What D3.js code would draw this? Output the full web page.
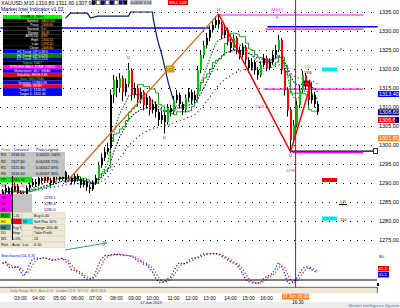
<!DOCTYPE html>
<head>
    <meta charset='utf-8'>
    <title>XAUUSD,M10</title>
    <script src='https://d3js.org/d3.v7.min.js'></script>
    <style>
        html, body { margin: 0px; padding: 0px; background: #fff; }
        svg { display: block; font-family: 'Liberation Sans', Arial, sans-serif; }
    </style>
</head>
<body>
    <svg id='chart' width='400' height='308'></svg>
    <script>
        // bars, one every 3px, oldest first
        var firstOpen = 1286.5;
        var closes = [1287.6, 1288.7, 1286.8, 1288.2, 1289.2, 1287.4, 1286.0, 1287.1, 1288.7, 1289.5,
            1290.3, 1289.7, 1291.3, 1290.5, 1291.8, 1290.8, 1290.0, 1291.6, 1292.4, 1291.0,
            1292.9, 1290.8, 1291.3, 1290.3, 1291.8, 1291.0, 1289.5, 1290.5, 1288.9, 1288.4,
            1290.0, 1291.3, 1294.7, 1296.6, 1298.2, 1299.2, 1313.2, 1317.1, 1315.0, 1317.6,
            1313.9, 1316.1, 1319.7, 1313.2, 1315.0, 1311.8, 1313.9, 1310.5, 1312.4, 1309.2,
            1310.8, 1308.7, 1306.6, 1307.9, 1306.0, 1309.7, 1308.7, 1311.8, 1313.2, 1310.8,
            1309.2, 1312.4, 1313.9, 1311.8, 1313.2, 1319.7, 1323.7, 1326.3, 1328.2, 1330.3,
            1331.6, 1332.9, 1331.8, 1328.9, 1330.3, 1327.1, 1325.5, 1328.2, 1325.0, 1323.7,
            1325.8, 1322.4, 1320.3, 1321.8, 1319.7, 1318.4, 1321.1, 1322.9, 1320.3, 1321.8,
            1323.7, 1325.0, 1327.6, 1319.7, 1314.5, 1309.2, 1301.3, 1305.3, 1310.5, 1314.5,
            1318.4, 1315.8, 1311.8, 1313.2, 1310.8, 1308.6];
        var highs = [1288.4, 1289.6, 1289.1, 1288.9, 1290.1, 1289.8, 1288.0, 1287.8, 1289.3, 1290.4,
            1291.2, 1291.0, 1292.0, 1292.1, 1292.6, 1292.3, 1291.4, 1292.2, 1293.5, 1292.9,
            1293.8, 1293.2, 1292.1, 1291.9, 1292.5, 1292.4, 1291.4, 1291.2, 1290.9, 1289.6,
            1290.7, 1292.2, 1295.5, 1297.8, 1299.4, 1300.6, 1314.6, 1318.4, 1318.0, 1318.9,
            1318.3, 1317.5, 1321.6, 1320.2, 1316.4, 1315.6, 1315.1, 1314.4, 1313.6, 1312.9,
            1312.0, 1311.5, 1309.4, 1309.0, 1308.6, 1310.8, 1310.6, 1312.9, 1314.5, 1313.8,
            1311.4, 1313.3, 1315.0, 1314.6, 1314.3, 1320.8, 1325.0, 1327.4, 1329.5, 1331.4,
            1332.8, 1333.9, 1334.5, 1332.4, 1331.5, 1330.9, 1328.0, 1329.1, 1328.7, 1325.9,
            1326.8, 1326.3, 1323.1, 1322.9, 1322.4, 1320.6, 1322.0, 1324.0, 1323.5, 1322.8,
            1324.9, 1326.4, 1329.0, 1328.1, 1320.4, 1315.2, 1310.0, 1306.6, 1311.7, 1315.8,
            1319.6, 1319.0, 1316.5, 1316.6, 1314.0, 1311.6];
        var lows = [1285.9, 1287.0, 1285.8, 1286.2, 1287.7, 1286.9, 1285.2, 1285.6, 1286.6, 1288.1,
            1288.9, 1289.0, 1289.2, 1289.9, 1290.0, 1290.2, 1289.3, 1289.6, 1291.1, 1290.4,
            1290.6, 1290.0, 1290.3, 1289.6, 1289.9, 1290.4, 1288.7, 1288.9, 1287.9, 1287.3,
            1287.9, 1289.5, 1290.9, 1294.0, 1295.8, 1297.5, 1298.8, 1311.0, 1312.6, 1313.8,
            1311.5, 1312.8, 1315.2, 1311.7, 1312.3, 1310.2, 1310.9, 1309.1, 1309.6, 1307.8,
            1308.3, 1307.2, 1305.0, 1305.5, 1303.0, 1305.4, 1307.5, 1308.1, 1311.0, 1309.6,
            1307.9, 1308.6, 1311.6, 1310.7, 1311.0, 1312.7, 1318.9, 1322.8, 1325.4, 1327.3,
            1329.6, 1330.8, 1330.6, 1327.8, 1328.1, 1326.2, 1324.3, 1324.9, 1323.9, 1322.5,
            1323.0, 1321.2, 1319.0, 1319.6, 1318.5, 1317.2, 1317.8, 1320.5, 1319.4, 1319.7,
            1321.2, 1322.9, 1324.4, 1318.6, 1313.0, 1307.5, 1298.2, 1300.4, 1304.6, 1309.7,
            1313.8, 1314.6, 1310.4, 1310.9, 1309.9, 1307.9];

        var priceTicks = [1335, 1330, 1325, 1320, 1315, 1310, 1305, 1300, 1295, 1290, 1285, 1280, 1275];
        var timeTicks = [[6, '03:00'], [12, '04:00'], [19, '05:00'], [25, '06:00'], [31, '07:00'], [38, '08:00'],
            [44, '09:00'], [50, '10:00'], [57, '11:00'], [63, '12:00'], [69, '13:00'], [76, '14:00'],
            [82, '15:00'], [88, '16:00']];

        // zigzag swings [bar, price]
        var zigUp = [[21, 1290.0], [72, 1334.5]];
        var zigDown = [[72, 1334.5], [96, 1298.2], [103, 1316.6]];
        // trailing stop steps [bar, price]
        var trail = [[21, 1333.4], [22.7, 1334.7], [28.3, 1334.7], [29.3, 1333.4], [31.7, 1333.9], [42, 1333.9],
            [42.7, 1335.0], [50, 1335.0], [50.3, 1332.9], [51.7, 1327.6], [53.3, 1323.2], [55.3, 1316.3], [57, 1311.8]];
        // horizontal levels: price, first bar, last bar, kind
        var levels = [[1330.8, -0.7, 69, 'daily'], [1331.1, 88.3, 125, 'daily'], [1334.2, 72, 120.3, 'zone'],
            [1330.5, 87.7, 120.3, 'zone'], [1314.7, 87, 120.3, 'zone'], [1298.0, 96.7, 120.3, 'zone'],
            [1298.4, 96, 123.7, 'entry']];
        var cursorBar = 97.7;
        // highlighted prices on the right axis
        var axisMarks = [[1313.4, 'line'], [1308.6, 'bid'], [1306.6, 'ask'], [1301.8, 'target']];

        var panelRows = [['SYMBOL INFO', '', 'head'], ['Symbol', 'XAUUSD', 'dark'], ['Price', '1308.60', 'dark'],
            ['Spread', '3.0', 'dark'], ['Range', '36.30', 'dark'], ['ATR(14)', '4.85', 'dark'],
            ['High', '1334.52', 'dark'], ['Low', '1298.20', 'dark'], ['Close', '1308.60', 'dark'],
            ['H1 Trend: UP 0.35%', '', 'blue'], ['H4 Trend: UP 0.12%', '', 'green'], ['D1 Trend: DN 0.21%', '', 'navy'],
            ['Signal: WAIT', '', 'dark'], ['STRONG SELL ZONE 1330.5', '', 'magenta'], ['Momentum: 48.2 WEAK', '', 'blue'],
            ['Volatility: HIGH 4.85', '', 'red'], ['Bias: NEUTRAL', '', 'dark'], ['Session: LONDON', '', 'blue'],
            ['RISK: HIGH', '', 'red'], ['Target 1: 1316.60', '', 'blue'], ['Target 2: 1322.40', '', 'blue']];

        var pivotRows = [['R3', '1334.50', '0.00025  100%'], ['R2', '1327.60', '0.00018  71%'],
            ['R1', '1321.80', '0.00012  49%'], ['R0', '1316.60', '0.00007  30%']];
        var lowerRows = [['PP', '1310.50', 'pp'], ['S1', '1301.30', 'plain'], ['S2', '1298.20', 'plain']];
        var gridRows = [['M15', '1.20', '', 'Buy  0.40'], ['H1', '', '12', 'Sell Pos 10%'], ['H4', 'Buy 1.2', '', 'Range 200.40'],
            ['D1', 'Stop', '', 'Take Profit'], ['W1', '5.0%', '', '24'], ['Risk', 'Auto', 'Lot', '0.10']];

        var svg = d3.select('#chart');
        var x = d3.scaleLinear().domain([0, 105]).range([2.5, 317.5]);
        var y = d3.scaleLinear().domain([1275, 1335]).range([240, 12]);
        var yOsc = d3.scaleLinear().domain([0, 100]).range([287, 252]);

        var bars = closes.map(function(c, i) {
            return {i: i, o: i ? closes[i - 1] : firstOpen, h: highs[i], l: lows[i], c: c};
        });

        function ema(vals, n) {
            var k = 2 / (n + 1), prev, out = [];
            vals.forEach(function(v, i) { prev = i ? prev + k * (v - prev) : v; out.push(prev); });
            return out;
        }
        function sma(vals, n) {
            return vals.map(function(v, i) {
                return d3.mean(vals.slice(Math.max(0, i - n + 1), i + 1));
            });
        }

        // bottom strip
        svg.append('rect').attr('x', 0).attr('y', 302).attr('width', 400).attr('height', 6).attr('fill', '#ebebeb');

        // grid
        svg.selectAll('.grid').data(priceTicks).enter().append('line')
            .attr('x1', 0).attr('x2', 372)
            .attr('y1', function(d) { return Math.round(y(d)) + 0.5; })
            .attr('y2', function(d) { return Math.round(y(d)) + 0.5; })
            .attr('stroke', '#000').attr('stroke-dasharray', '1,6');

        // levels
        var levelColor = {daily: '#0000ff', zone: '#ff00ff', entry: '#000'};
        svg.selectAll('.lvl').data(levels).enter().append('line')
            .attr('x1', function(d) { return x(d[1]); }).attr('x2', function(d) { return x(d[2]); })
            .attr('y1', function(d) { return y(d[0]); }).attr('y2', function(d) { return y(d[0]); })
            .attr('stroke', function(d) { return levelColor[d[3]]; })
            .attr('stroke-width', function(d) { return d[3] == 'daily' ? 1.6 : 1.1; });
        var entry = levels[levels.length - 1];
        svg.append('rect').attr('x', x(entry[2])).attr('y', y(entry[0]) - 2.5).attr('width', 4).attr('height', 5)
            .attr('fill', '#fff').attr('stroke', '#000').attr('stroke-width', 0.8);

        // trailing stop
        var line = d3.line().x(function(d) { return x(d[0]); }).y(function(d) { return y(d[1]); });
        svg.append('path').attr('d', line(trail)).attr('fill', 'none').attr('stroke', '#001a70').attr('stroke-width', 1.2);

        // moving averages
        var maLine = d3.line().x(function(d, i) { return x(i); }).y(function(d) { return y(d); });
        var fast = ema(closes, 8), mid = ema(closes, 16), slow = ema(closes, 34);
        var step = closes.map(function(c, i) {
            var a = Math.max(0, i - 8);
            return (d3.max(highs.slice(a, i + 1)) + d3.min(lows.slice(a, i + 1))) / 2;
        });
        svg.append('path').attr('d', maLine(slow)).attr('fill', 'none').attr('stroke', '#0000a0')
            .attr('stroke-width', 1.1).attr('stroke-dasharray', '1,3');
        svg.append('path').attr('d', maLine(mid)).attr('fill', 'none').attr('stroke', '#000080')
            .attr('stroke-width', 1.1).attr('stroke-dasharray', '1.5,1.5');
        svg.append('path').attr('d', d3.line().curve(d3.curveStepAfter).x(function(d, i) { return x(i); }).y(function(d) { return y(d); })(step))
            .attr('fill', 'none').attr('stroke', '#00a000').attr('stroke-width', 0.9);
        svg.append('path').attr('d', maLine(fast)).attr('fill', 'none').attr('stroke', '#008000')
            .attr('stroke-width', 1.1).attr('stroke-dasharray', '1.5,1.5');

        // candles
        var cg = svg.append('g');
        cg.selectAll('line').data(bars).enter().append('line')
            .attr('x1', function(d) { return x(d.i); }).attr('x2', function(d) { return x(d.i); })
            .attr('y1', function(d) { return y(d.h); }).attr('y2', function(d) { return y(d.l); })
            .attr('stroke', '#000');
        cg.selectAll('rect').data(bars).enter().append('rect')
            .attr('x', function(d) { return x(d.i) - 0.5; }).attr('width', 2)
            .attr('y', function(d) { return y(Math.max(d.o, d.c)); })
            .attr('height', function(d) { return Math.max(1, Math.abs(y(d.o) - y(d.c))); })
            .attr('fill', function(d) {
                if (d.c - d.o > 2.5 && d.c - d.o < 8) return '#00c800';
                if (d.o - d.c > 2.5) return '#ff0000';
                return '#000';
            });

        // zigzag
        svg.append('path').attr('d', line(zigUp)).attr('fill', 'none').attr('stroke', '#d2691e').attr('stroke-width', 1.3);
        svg.append('path').attr('d', line(zigDown)).attr('fill', 'none').attr('stroke', '#ff0000').attr('stroke-width', 1.5);

        // swing marks
        var marks = [[42, 1321.6, -4], [54, 1303.0, 5], [72, 1334.5, -3], [96, 1298.2, 5]];
        svg.selectAll('.mk').data(marks).enter().append('text')
            .attr('x', function(d) { return x(d[0]); }).attr('y', function(d) { return y(d[1]) + d[2]; })
            .attr('text-anchor', 'middle').attr('font-size', 5).attr('fill', '#8020c0').text('u');

        // swing size tag
        svg.append('rect').attr('x', 166).attr('y', 66).attr('width', 8).attr('height', 6)
            .attr('fill', '#f5c400').attr('stroke', '#d06000').attr('stroke-width', 0.8);
        svg.append('text').attr('x', 170).attr('y', 70.5).attr('text-anchor', 'middle')
            .attr('font-size', 4).attr('fill', '#804000').text('115');

        // cursor line
        svg.append('line').attr('x1', x(cursorBar)).attr('x2', x(cursorBar)).attr('y1', 0).attr('y2', 293)
            .attr('stroke', '#e00000').attr('stroke-width', 1);

        // small level labels
        function tag(tx, ty, t, c, fs) {
            svg.append('text').attr('x', tx).attr('y', ty).attr('font-size', fs || 4).attr('fill', c).text(t);
        }
        tag(271, 11, '1334.5', '#ff00ff');
        tag(276, 19, 'F', '#ff00ff');
        tag(276, 28, 'x', '#ff00ff');
        tag(255, 108, '1308', '#ff00ff');
        tag(287, 166, 'x', '#ff00ff');
        tag(286, 172, '1298', '#ff00ff');
        tag(304, 68, '1.50', '#e07000', 3.5);
        tag(304, 74, '1316', '#000', 3.5);
        svg.append('rect').attr('x', 304).attr('y', 81).attr('width', 6).attr('height', 5)
            .attr('fill', '#ff0000').attr('stroke', '#000').attr('stroke-width', 0.7);
        tag(340, 51, 'P', '#000080', 3.5);

        // right boxes
        svg.append('rect').attr('x', 322).attr('y', 67.5).attr('width', 15).attr('height', 4).attr('fill', '#00e5ee');
        svg.append('rect').attr('x', 322).attr('y', 178).attr('width', 15).attr('height', 4).attr('fill', '#ff0000');
        svg.append('line').attr('x1', 339).attr('x2', 347).attr('y1', 204.5).attr('y2', 204.5).attr('stroke', '#000');
        tag(340, 203, '1.25', '#000', 3);
        svg.append('rect').attr('x', 322).attr('y', 216.5).attr('width', 15).attr('height', 4).attr('fill', '#00e5ee');
        tag(340, 220.5, '110', '#000', 4);

        // price axis
        svg.selectAll('.pl').data(priceTicks).enter().append('text')
            .attr('x', 379).attr('y', function(d) { return y(d) + 2; })
            .attr('font-size', 5.5).attr('fill', '#000').text(function(d) { return d.toFixed(2); });
        var markColor = {line: '#0000ff', bid: '#000080', ask: '#ff0000', target: '#ff7f27'};
        axisMarks.forEach(function(d) {
            svg.append('rect').attr('x', 378).attr('y', y(d[0]) - 3).attr('width', 21).attr('height', 6).attr('fill', markColor[d[1]]);
            svg.append('text').attr('x', 379).attr('y', y(d[0]) + 2).attr('font-size', 5.5).attr('fill', '#fff').text(d[0].toFixed(2));
        });
        svg.append('rect').attr('x', 395).attr('y', y(axisMarks[2][0]) - 3).attr('width', 4).attr('height', 6).attr('fill', '#000080');

        // info panel
        var panelFill = {head: '#00ff00', dark: '#000', blue: '#0000ff', green: '#008000', navy: '#000080',
            magenta: '#ff00ff', red: '#ff0000'};
        var rowH = 3.85;
        var pg = svg.append('g');
        panelRows.forEach(function(r, i) {
            var ry = 15 + i * rowH;
            pg.append('rect').attr('x', 3).attr('y', ry).attr('width', 59).attr('height', rowH + 0.1).attr('fill', panelFill[r[2]]);
            if (r[2] == 'dark' && r[1]) {
                pg.append('text').attr('x', 39).attr('y', ry + 3.1).attr('text-anchor', 'end')
                    .attr('font-size', 3.4).attr('fill', '#fff').text(r[0] + ':');
                pg.append('text').attr('x', 41).attr('y', ry + 3.1)
                    .attr('font-size', 3.4).attr('fill', '#ffc040').text(r[1]);
            } else {
                pg.append('text').attr('x', 32.5).attr('y', ry + 3.1).attr('text-anchor', 'middle')
                    .attr('font-size', 3.4).attr('fill', r[2] == 'head' ? '#000' : (r[2] == 'dark' ? '#00ff00' : '#fff')).text(r[0]);
            }
        });

        // pivot table
        var tg = svg.append('g').attr('font-size', 3.8);
        tg.append('text').attr('x', 1).attr('y', 150.5).attr('fill', '#008000').text('Pivot');
        tg.append('text').attr('x', 14).attr('y', 150.5).attr('fill', '#0000c0').text('Distance');
        tg.append('text').attr('x', 36).attr('y', 150.5).attr('fill', '#000080').text('Pivot Legend');
        pivotRows.forEach(function(r, i) {
            var ry = 152 + i * 6.2;
            tg.append('rect').attr('x', 0).attr('y', ry).attr('width', 65).attr('height', 6.3).attr('fill', '#c4c4c4');
            tg.append('text').attr('x', 1).attr('y', ry + 4.3).attr('fill', '#000').text(r[0]);
            tg.append('text').attr('x', 11).attr('y', ry + 4.3).attr('fill', '#000').text(r[1]);
            tg.append('text').attr('x', 36).attr('y', ry + 4.3).attr('fill', '#000').text(r[2]);
        });
        lowerRows.forEach(function(r, i) {
            var ry = 176.8 + i * 5.8;
            if (r[2] == 'pp') tg.append('rect').attr('x', 0).attr('y', ry).attr('width', 32).attr('height', 5.8).attr('fill', '#00f000');
            tg.append('text').attr('x', 1).attr('y', ry + 4.2).attr('fill', '#000').text(r[0]);
            tg.append('text').attr('x', 11).attr('y', ry + 4.2).attr('fill', r[2] == 'pp' ? '#000' : '#ff0000').text(r[1]);
        });
        tg.append('rect').attr('x', 0).attr('y', 194).attr('width', 12).attr('height', 18.5).attr('fill', '#ff00ff');
        tg.append('rect').attr('x', 12).attr('y', 194).attr('width', 20).attr('height', 18.5).attr('fill', '#c4c4c4');
        ['S3', 'S4', 'S5'].forEach(function(t, i) {
            tg.append('text').attr('x', 1).attr('y', 198.5 + i * 6.2).attr('fill', '#000').text(t);
        });
        ['1293.1', '1288.4', '1285.0'].forEach(function(t, i) {
            tg.append('text').attr('x', 44).attr('y', 198.5 + i * 6.2).attr('fill', '#000080').text(t);
        });
        tg.append('text').attr('x', 43).attr('y', 180.5).attr('fill', '#ff0000').text('1303.5');
        var firstCell = ['#00c800', '#ffff00', '#2e8b8b', '#efe9d8', '#efe9d8', '#efe9d8'];
        var cols = [0, 11, 22, 33, 65];
        gridRows.forEach(function(r, i) {
            var ry = 212.5 + i * 5.9;
            for (var k = 0; k < 4; k++) {
                var f = '#efe9d8';
                if (k == 0) f = firstCell[i];
                if (i == 1 && k == 1) f = '#ff0000';
                if (i == 1 && k == 2) f = '#00e5ee';
                tg.append('rect').attr('x', cols[k]).attr('y', ry).attr('width', cols[k + 1] - cols[k]).attr('height', 5.9)
                    .attr('fill', f).attr('stroke', '#cfc6ae').attr('stroke-width', 0.4);
                tg.append('text').attr('x', cols[k] + 1).attr('y', ry + 4.2).attr('fill', '#000').text(r[k]);
            }
        });
        svg.append('line').attr('x1', 12.5).attr('x2', 12.5).attr('y1', 176).attr('y2', 240).attr('stroke', '#000');

        // arrow
        svg.append('defs').append('marker').attr('id', 'ah').attr('viewBox', '0 0 6 6').attr('refX', 5).attr('refY', 3)
            .attr('markerWidth', 5).attr('markerHeight', 5).attr('orient', 'auto')
            .append('path').attr('d', 'M0,0L6,3L0,6').attr('fill', 'none').attr('stroke', '#3c9c6c');
        svg.append('line').attr('x1', 65).attr('y1', 250).attr('x2', 106).attr('y2', 243)
            .attr('stroke', '#3c9c6c').attr('stroke-width', 1).attr('marker-end', 'url(#ah)');

        // stochastic
        var raw = closes.map(function(c, i) {
            var a = Math.max(0, i - 13);
            var hh = d3.max(highs.slice(a, i + 1)), ll = d3.min(lows.slice(a, i + 1));
            return (c - ll) / (hh - ll) * 100;
        });
        var kLine = sma(raw, 3), dLine = sma(kLine, 3);
        var oscLine = d3.line().x(function(d, i) { return x(i); }).y(function(d) { return yOsc(d); });
        svg.append('path').attr('d', oscLine(dLine)).attr('fill', 'none').attr('stroke', '#ff0000')
            .attr('stroke-width', 1.2).attr('stroke-dasharray', '1.2,2');
        svg.append('path').attr('d', oscLine(kLine)).attr('fill', 'none').attr('stroke', '#0000ff')
            .attr('stroke-width', 1.2).attr('stroke-dasharray', '1.2,2');
        svg.append('text').attr('x', 1).attr('y', 257).attr('font-size', 4.2).attr('fill', '#0000ff').text('Stochastic(14,3,3)');
        svg.append('line').attr('x1', 0).attr('x2', 377).attr('y1', yOsc(20)).attr('y2', yOsc(20)).attr('stroke', '#000').attr('stroke-width', 1.2);
        svg.append('rect').attr('x', 377).attr('y', 283).attr('width', 2).attr('height', 3).attr('fill', '#000');
        svg.append('text').attr('x', 379).attr('y', 258).attr('font-size', 4).attr('fill', '#000').text('80 -');
        var kLast = kLine[kLine.length - 1], dLast = dLine[dLine.length - 1];
        [[dLast, '#ff0000', 266], [kLast, '#0000ff', 272]].forEach(function(d) {
            svg.append('rect').attr('x', 378).attr('y', d[2]).attr('width', 11).attr('height', 5.5).attr('fill', d[1]);
            svg.append('text').attr('x', 378.5).attr('y', d[2] + 4.3).attr('font-size', 4.3).attr('fill', '#fff').text(d[0].toFixed(1));
        });

        // band under the oscillator
        svg.append('rect').attr('x', 0).attr('y', 287).attr('width', 377).attr('height', 6).attr('fill', '#efe9d8');
        svg.append('line').attr('x1', 0).attr('x2', 377).attr('y1', 287.3).attr('y2', 287.3).attr('stroke', '#000').attr('stroke-width', 0.6);
        svg.append('line').attr('x1', 377.3).attr('x2', 377.3).attr('y1', 287).attr('y2', 293).attr('stroke', '#000').attr('stroke-width', 0.6);
        svg.append('text').attr('x', 10).attr('y', 291.5).attr('font-size', 3.4).attr('fill', '#8a7a50')
            .text('Daily Range 36.3  ·  Asia 12.4  ·  London 22.8  ·  NY 0.0  ·  ADR 28.6');

        // time axis
        svg.selectAll('.tl').data(timeTicks).enter().append('text')
            .attr('x', function(d) { return x(d[0]); }).attr('y', 299.5).attr('text-anchor', 'middle')
            .attr('font-size', 5).attr('fill', '#000').text(function(d) { return d[1]; });
        svg.append('rect').attr('x', 282).attr('y', 293.5).attr('width', 27).attr('height', 6).attr('fill', '#ff7f27');
        svg.append('text').attr('x', 295.5).attr('y', 298.3).attr('text-anchor', 'middle').attr('font-size', 4.5)
            .attr('fill', '#fff').text('17 Jun 16:30');
        svg.append('text').attr('x', 298).attr('y', 304).attr('text-anchor', 'middle').attr('font-size', 4.5)
            .attr('fill', '#000').text('16:30');
        svg.append('text').attr('x', 140).attr('y', 304).attr('font-size', 4).attr('fill', '#0000c0').text('17 Jun 2019');
        svg.append('text').attr('x', 399).attr('y', 307).attr('text-anchor', 'end').attr('font-size', 4.2)
            .attr('fill', '#4a78b8').text('Market Intelligence System');

        // title and top strip
        svg.append('text').attr('x', 1).attr('y', 5).attr('font-size', 5.2).attr('fill', '#000')
            .text('XAUUSD,M10  1310.80 1311.60 1307.90 1308.60');
        svg.append('text').attr('x', 1).attr('y', 11).attr('font-size', 5.2).attr('fill', '#000080')
            .text('Market Intel Indicator v1.02');
        var strip = ['#000080', '#fff', '#0000ff', '#fff', '#000080', '#fff', '#0000ff', '#000'];
        strip.forEach(function(c, i) {
            svg.append('rect').attr('x', 92 + i * 4.5).attr('y', 0.5).attr('width', 3.5).attr('height', 4)
                .attr('fill', c).attr('stroke', '#000').attr('stroke-width', 0.4);
        });
        svg.append('rect').attr('x', 130).attr('y', 0).attr('width', 22).attr('height', 5).attr('fill', '#c8c8c8');
        svg.append('text').attr('x', 131).attr('y', 4).attr('font-size', 3.8).attr('fill', '#000').text('0.0032 0.14');
        svg.append('rect').attr('x', 168).attr('y', 0).attr('width', 20).attr('height', 5).attr('fill', '#e00000');
        svg.append('text').attr('x', 169).attr('y', 4).attr('font-size', 3.8).attr('fill', '#fff').text('SELL 1.08');
    </script>
</body>
